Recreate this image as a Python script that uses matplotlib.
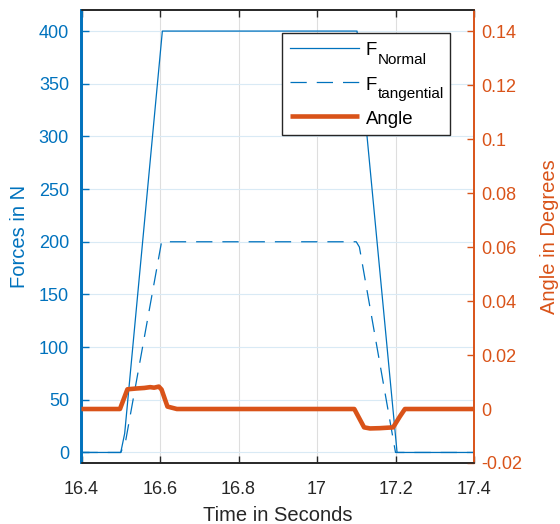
import matplotlib
matplotlib.use("Agg")
import matplotlib.pyplot as plt

plt.rcParams['font.family'] = ['Liberation Sans', 'DejaVu Sans']

# ---- data ----
t_force = [16.4, 16.5, 16.51, 16.606, 17.102, 17.204, 17.4]
f_normal = [0, 0, 18, 400, 400, 0, 0]

t_tang = [16.4, 16.5, 16.512, 16.604, 17.1, 17.108, 17.2, 17.4]
f_tang = [0, 0, 10, 200, 200, 195, 0, 0]

t_angle = [16.4, 16.498, 16.517, 16.54, 16.56, 16.575, 16.585, 16.597, 16.604,
           16.619, 16.643, 17.095, 17.12, 17.135, 17.16, 17.194, 17.211, 17.224, 17.4]
angle = [0, 0, 0.0073, 0.0076, 0.0078, 0.0081, 0.0079, 0.0083, 0.0072,
         0.0009, 0, 0, -0.0068, -0.0072, -0.0071, -0.0068, -0.0028, 0, 0]

legend_main = ['F', 'F', 'Angle']
legend_sub = ['Normal', 'tangential', '']

xticks = [16.4, 16.6, 16.8, 17.0, 17.2, 17.4]
xticklabels = ['16.4', '16.6', '16.8', '17', '17.2', '17.4']
yticks_left = [0, 50, 100, 150, 200, 250, 300, 350, 400]
yticks_right = [-0.02, 0, 0.02, 0.04, 0.06, 0.08, 0.1, 0.12, 0.14]
yticklabels_right = ['-0.02', '0', '0.02', '0.04', '0.06', '0.08', '0.1', '0.12', '0.14']

BLUE = '#0072BD'
ORANGE = '#D95319'
DARK = '#262626'

fig = plt.figure(figsize=(5.6, 5.24), dpi=100)
ax = fig.add_axes([81.5/560, 1-463/524, (474-81.5)/560, (463-10)/524])
ax2 = ax.twinx()

# grid
for xt in xticks:
    ax.axvline(xt, color='#DEDEDE', lw=0.8, zorder=0)
for yt in yticks_left:
    ax.axhline(yt, color='#D9EAF5', lw=0.8, zorder=0)

l1, = ax.plot(t_force, f_normal, color=BLUE, lw=0.9, zorder=3)
l2, = ax.plot(t_tang, f_tang, color=BLUE, lw=0.9, ls=(0, (13, 8)), zorder=3)
l3, = ax2.plot(t_angle, angle, color=ORANGE, lw=3.3, solid_joinstyle='round',
               solid_capstyle='butt', zorder=3)

ax.set_xlim(16.4, 17.4)
ax.set_ylim(-10, 420)
ax2.set_ylim(-0.02, 0.1478)

ax.set_xticks(xticks)
ax.set_xticklabels(xticklabels)
ax.set_yticks(yticks_left)
ax2.set_yticks(yticks_right)
ax2.set_yticklabels(yticklabels_right)

ax.tick_params(axis='x', direction='in', length=5, width=1, colors=DARK,
               labelsize=13, pad=13, top=True)
ax.tick_params(axis='y', direction='in', length=5, width=1, colors=BLUE,
               labelsize=13, pad=9)
ax2.tick_params(axis='y', direction='in', length=5, width=1, colors=ORANGE,
                labelsize=13, pad=5)

for a in (ax, ax2):
    for sp in ['top', 'bottom']:
        a.spines[sp].set_color(DARK)
        a.spines[sp].set_linewidth(1.2)
    a.spines['left'].set_color(BLUE)
    a.spines['left'].set_linewidth(1.4)
ax2.spines['right'].set_color(ORANGE)
ax2.spines['right'].set_linewidth(1.4)
ax.spines['right'].set_visible(False)

ax.set_xlabel('Time in Seconds', fontsize=14.5, color=DARK, labelpad=6)
ax.set_ylabel('Forces in N', fontsize=14.5, color=BLUE, labelpad=7)
ax2.set_ylabel('Angle in Degrees', fontsize=14.5, color=ORANGE, labelpad=13)

# legend: empty labels, room reserved by handletextpad; texts added as annotations
FS = 13.4
px = 72.0 / 100  # points per pixel
text_room = 4.44  # in font-size units
leg = ax2.legend([l1, l2, l3], ['', '', ''],
                 loc='upper right', bbox_to_anchor=((450-81.5)/392.5, (463-32.7)/453),
                 fontsize=FS, handlelength=3.7, frameon=True, fancybox=False,
                 framealpha=1, edgecolor=DARK, borderpad=0.45, labelspacing=0.92,
                 handletextpad=text_room, borderaxespad=0)
leg.get_frame().set_linewidth(1.0)
fw = 0.611 * FS  # width of 'F' in points
x0 = -text_room * FS + 7 * px
for txt, main, sub in zip(leg.get_texts(), legend_main, legend_sub):
    ax2.annotate(main, xy=(0, 0), xycoords=txt, xytext=(x0, -1.0),
                 textcoords='offset points', ha='left', va='baseline',
                 fontsize=FS, color='black', zorder=10, annotation_clip=False)
    if sub:
        ax2.annotate(sub, xy=(0, 0), xycoords=txt, xytext=(x0 + fw, -7.0),
                     textcoords='offset points', ha='left', va='baseline',
                     fontsize=11, color='black', zorder=10, annotation_clip=False)

fig.savefig('out.png', dpi=100)
